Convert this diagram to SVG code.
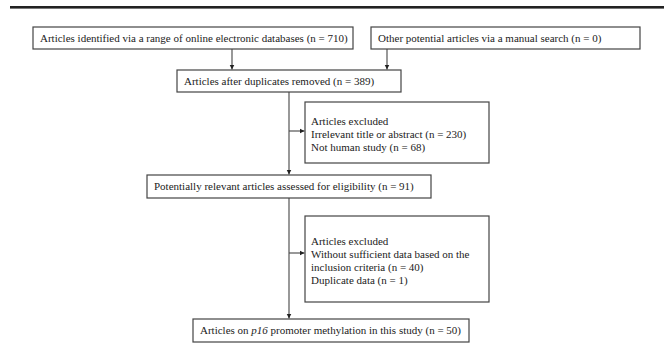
<svg xmlns="http://www.w3.org/2000/svg" width="664" height="346" viewBox="0 0 664 346">
<style>
.box{fill:#fff;stroke:#444;stroke-width:1.2}
.t{font-family:"Liberation Serif","Times New Roman",serif;font-size:11px;fill:#222}
.c{stroke:#444;stroke-width:1.1;fill:none}
</style>
<defs>
<marker id="ah" markerWidth="6" markerHeight="6" refX="5" refY="3" orient="auto" markerUnits="userSpaceOnUse">
<path d="M0,0.5 L5,3 L0,5.5 Z" fill="#222"/>
</marker>
</defs>
<rect x="10" y="6" width="654" height="2.6" fill="#222"/>
<g id="connectors">
<line class="c" x1="232" y1="49" x2="232" y2="69.5" marker-end="url(#ah)"/>
<line class="c" x1="387" y1="49" x2="387" y2="69.5" marker-end="url(#ah)"/>
<line class="c" x1="289" y1="92" x2="289" y2="174.5" marker-end="url(#ah)"/>
<line class="c" x1="289" y1="131" x2="304.5" y2="131" marker-end="url(#ah)"/>
<line class="c" x1="289" y1="198" x2="289" y2="318.5" marker-end="url(#ah)"/>
<line class="c" x1="289" y1="253" x2="304.5" y2="253" marker-end="url(#ah)"/>
</g>
<g id="n1"><rect class="box" x="33" y="27" width="320" height="22"/><text class="t" x="40" y="41.8">Articles identified via a range of online electronic databases (n = 710)</text></g>
<g id="n2"><rect class="box" x="371" y="27" width="269" height="22"/><text class="t" x="378" y="41.8">Other potential articles via a manual search (n = 0)</text></g>
<g id="n3"><rect class="box" x="177" y="70" width="224" height="22"/><text class="t" x="184" y="84.8">Articles after duplicates removed (n = 389)</text></g>
<g id="n4"><rect class="box" x="305" y="102" width="184" height="61"/><text class="t" x="311" y="124.8">Articles excluded</text><text class="t" x="311" y="137.8">Irrelevant title or abstract (n = 230)</text><text class="t" x="311" y="150.8">Not human study (n = 68)</text></g>
<g id="n5"><rect class="box" x="147" y="175" width="284" height="23"/><text class="t" x="154" y="190">Potentially relevant articles assessed for eligibility (n = 91)</text></g>
<g id="n6"><rect class="box" x="305" y="216" width="184" height="86"/><text class="t" x="311" y="244.8">Articles excluded</text><text class="t" x="311" y="257.8">Without sufficient data based on the</text><text class="t" x="311" y="270.8">inclusion criteria (n = 40)</text><text class="t" x="311" y="283.8">Duplicate data (n = 1)</text></g>
<g id="n7"><rect class="box" x="193" y="319" width="276" height="23"/><text class="t" x="200" y="334">Articles on <tspan font-style="italic">p16</tspan> promoter methylation in this study (n = 50)</text></g>
</svg>
